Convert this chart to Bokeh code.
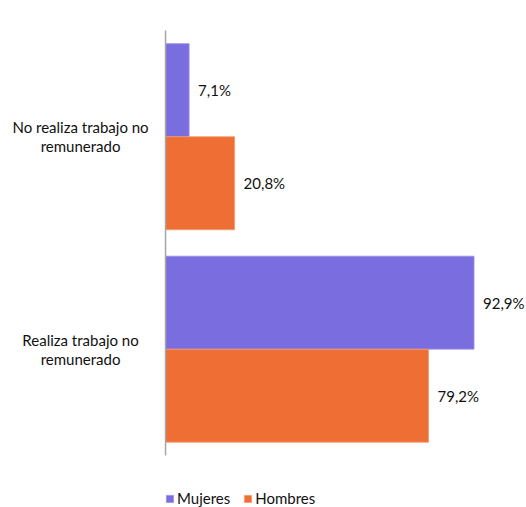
from bokeh.plotting import figure
from bokeh.models import ColumnDataSource, Range1d, Legend, LegendItem
from bokeh.transform import dodge
from bokeh.core.properties import value
from bokeh.embed import file_html
from bokeh.resources import INLINE

# ---- data ----
categories = ["Realiza trabajo no remunerado", "No realiza trabajo no remunerado"]
mujeres = [92.9, 7.1]
hombres = [79.2, 20.8]
series_names = ["Mujeres", "Hombres"]
colors = ["#7A6DDF", "#EF6E34"]

FONT = "Lato"
FS = "15px"

def fmt(v):
    return f"{v:.1f}".replace(".", ",") + "%"

pos = list(range(len(categories)))
line1 = [c.rsplit(" ", 1)[0] for c in categories]
line2 = [c.rsplit(" ", 1)[1] for c in categories]

src = ColumnDataSource(dict(
    pos=pos,
    mujeres=mujeres,
    hombres=hombres,
    lab_m=[fmt(v) for v in mujeres],
    lab_h=[fmt(v) for v in hombres],
    l1=line1,
    l2=line2,
))

n = len(categories)
p = figure(width=526, height=507, output_backend="svg", toolbar_location=None,
           x_range=Range1d(-49.7, 108.7),
           y_range=Range1d(n - 0.5 - 2.386 + 0.141, n - 0.5 + 0.141),
           min_border=0)
p.xaxis.visible = False
p.yaxis.visible = False
p.xgrid.visible = False
p.ygrid.visible = False
p.outline_line_color = None

bar_h = 0.4376
off = 0.219

rm = p.hbar(y=dodge("pos", off), left=0, right="mujeres", height=bar_h,
            source=src, fill_color=colors[0], line_color="#9B92E8", line_width=0.8)
rh = p.hbar(y=dodge("pos", -off), left=0, right="hombres", height=bar_h,
            source=src, fill_color=colors[1], line_color="#F39A70", line_width=0.8)

p.text(x="mujeres", y=dodge("pos", off), text="lab_m", source=src,
       x_offset=9, text_align="left", text_baseline="middle",
       text_font=value(FONT), text_font_size=FS, text_color="#111111")
p.text(x="hombres", y=dodge("pos", -off), text="lab_h", source=src,
       x_offset=9, text_align="left", text_baseline="middle",
       text_font=value(FONT), text_font_size=FS, text_color="#111111")

# category labels (centered, two lines)
p.text(x=-25.6, y="pos", text="l1", source=src, y_offset=-9.5,
       text_align="center", text_baseline="middle",
       text_font=value(FONT), text_font_size=FS, text_color="#111111")
p.text(x=-25.6, y="pos", text="l2", source=src, y_offset=9.5,
       text_align="center", text_baseline="middle",
       text_font=value(FONT), text_font_size=FS, text_color="#111111")

# vertical category axis line
p.segment(x0=0, y0=-0.5, x1=0, y1=n - 0.5, line_color="#A6A6A6", line_width=1.5)

legend = Legend(items=[LegendItem(label=series_names[0], renderers=[rm]),
                       LegendItem(label=series_names[1], renderers=[rh])],
                orientation="horizontal", location=(165, 0),
                label_text_font=FONT, label_text_font_size=FS, label_text_color="#111111",
                glyph_width=9, glyph_height=9, label_height=16, label_standoff=3,
                spacing=13, padding=0, margin=0,
                border_line_color=None, background_fill_alpha=0)
p.add_layout(legend)

open("out.html", "w").write(file_html(p, INLINE))
